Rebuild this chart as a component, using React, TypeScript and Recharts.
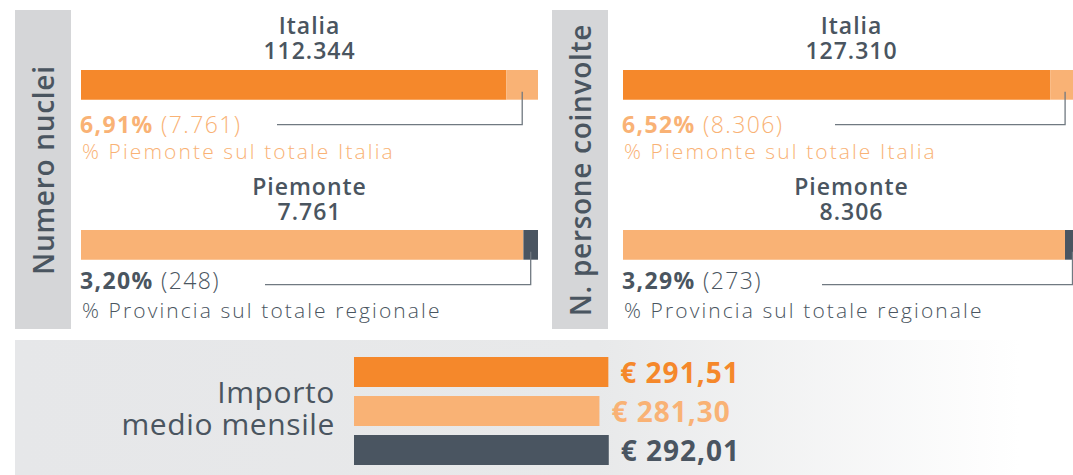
import React from 'react';
import { BarChart, Bar, XAxis, YAxis, Cell, LabelList } from 'recharts';

// values
const nucleiItalia = 112344;
const nucleiPiemonte = 7761;
const nucleiProvincia = 248;

const personeItalia = 127310;
const personePiemonte = 8306;
const personeProvincia = 273;

const importiLabels = ['Italia', 'Piemonte', 'Provincia'];
const importiValues = [291.51, 281.3, 292.01];

const ORANGE = '#f5882b';
const LIGHT = '#f9b275';
const DARK = '#4a5561';
const TEXT = '#4a5560';
const STRIP = '#d5d6d8';
const LINE = '#707981';
const FONT = '"Open Sans", sans-serif';

const importiColors = [ORANGE, LIGHT, DARK];

function fmtInt(n: number) {
  return String(n).replace(/\B(?=(\d{3})+(?!\d))/g, '.');
}
function fmtPct(part: number, total: number) {
  return (part / total * 100).toFixed(2).replace('.', ',') + '%';
}
function fmtEuro(v: number) {
  return '€ ' + v.toFixed(2).replace('.', ',');
}

const BAR_W = 457;
const BAR_H = 33;
const DROP = 25;

function Connector(props: any) {
  const { x, y, width, height, lineStart } = props;
  const cx = x + width / 2;
  const d = `M${cx},${y + height - 8} V${y + height + DROP} H${lineStart}`;
  return <path d={d} stroke={LINE} strokeWidth={1.3} fill="none" />;
}

function SplitBar({ total, part, colors, lineStart }: {
  total: number; part: number; colors: [string, string]; lineStart: number;
}) {
  const data = [{ name: 'x', rest: total - part, part }];
  return (
    <BarChart
      width={BAR_W}
      height={BAR_H + DROP + 4}
      data={data}
      layout="vertical"
      margin={{ top: 0, right: 0, bottom: DROP + 4, left: 0 }}
      barCategoryGap={0}
      style={{ overflow: 'visible' }}
    >
      <XAxis type="number" hide domain={[0, total]} />
      <YAxis type="category" dataKey="name" hide />
      <Bar dataKey="rest" stackId="s" fill={colors[0]} barSize={BAR_H} isAnimationActive={false} />
      <Bar
        dataKey="part"
        stackId="s"
        fill={colors[1]}
        barSize={BAR_H}
        isAnimationActive={false}
        label={(p: any) => <Connector {...p} lineStart={lineStart} />}
      />
    </BarChart>
  );
}

function abs(left: number, top: number, extra: React.CSSProperties = {}): React.CSSProperties {
  return { position: 'absolute', left, top, ...extra };
}

function Panel({ left, stripLeft, title, italia, piemonte, provincia, lines }: {
  left: number; stripLeft: number; title: string;
  italia: number; piemonte: number; provincia: number; lines: [number, number];
}) {
  const head: React.CSSProperties = {
    width: BAR_W, textAlign: 'center', fontSize: 23, lineHeight: '25px', color: TEXT,
    fontWeight: 600, letterSpacing: 1,
  };
  const pct: React.CSSProperties = { fontSize: 23, lineHeight: '26px', whiteSpace: 'nowrap', letterSpacing: 1.4 };
  const sub: React.CSSProperties = { fontSize: 21, lineHeight: '24px', fontWeight: 300, whiteSpace: 'nowrap', letterSpacing: 2.1 };
  return (
    <>
      <svg style={abs(stripLeft, 10)} width={56} height={319}>
        <rect width={56} height={319} fill={STRIP} />
        <text
          x={28} y={160} transform="rotate(-90 28 160)"
          textAnchor="middle" dominantBaseline="central" letterSpacing={0.7}
          fontFamily={FONT} fontSize={28} fontWeight={600} fill={TEXT}
        >{title}</text>
      </svg>

      <div style={abs(left, 13, head)}>
        <div>Italia</div>
        <div>{fmtInt(italia)}</div>
      </div>
      <div style={abs(left, 68)}>
        <SplitBar total={italia} part={piemonte} colors={[ORANGE, LIGHT]} lineStart={lines[0]} />
      </div>
      <div style={abs(left - 1, 111, { ...pct, color: LIGHT })}>
        <b>{fmtPct(piemonte, italia)}</b> <span style={{ fontWeight: 300 }}>({fmtInt(piemonte)})</span>
      </div>
      <div style={abs(left + 1, 139, { ...sub, color: LIGHT })}>
        % Piemonte sul totale Italia
      </div>

      <div style={abs(left, 174, head)}>
        <div>Piemonte</div>
        <div>{fmtInt(piemonte)}</div>
      </div>
      <div style={abs(left, 228)}>
        <SplitBar total={piemonte} part={provincia} colors={[LIGHT, DARK]} lineStart={lines[1]} />
      </div>
      <div style={abs(left - 1, 267, { ...pct, color: TEXT })}>
        <b>{fmtPct(provincia, piemonte)}</b> <span style={{ fontWeight: 300 }}>({fmtInt(provincia)})</span>
      </div>
      <div style={abs(left + 1, 298, { ...sub, color: TEXT })}>
        % Provincia sul totale regionale
      </div>
    </>
  );
}

function EuroLabel(props: any) {
  const { x, y, width, height, value, index } = props;
  return (
    <text
      x={x + width + 12} y={y + height / 2} dominantBaseline="central" letterSpacing={1}
      fontFamily={FONT} fontSize={28} fontWeight={700} fill={importiColors[index]}
    >{fmtEuro(value)}</text>
  );
}

export default function App() {
  const importi = importiLabels.map((name, i) => ({ name, value: importiValues[i] }));
  return (
    <div style={{ position: 'absolute', left: 0, top: 0, width: 1073, height: 475, overflow: 'hidden', background: '#fff', fontFamily: FONT }}>
      <Panel left={81} stripLeft={15} title="Numero nuclei"
        italia={nucleiItalia} piemonte={nucleiPiemonte} provincia={nucleiProvincia} lines={[196, 184]} />
      <Panel left={623} stripLeft={552} title="N. persone coinvolte"
        italia={personeItalia} piemonte={personePiemonte} provincia={personeProvincia} lines={[212, 199]} />

      <div style={abs(15, 340, {
        width: 1058, height: 135,
        background: 'linear-gradient(to right, #e6e7e9 0%, #e8e9ea 55%, #ffffff 95%)',
      })} />
      <div style={abs(60, 376, { width: 275, textAlign: 'right', fontSize: 30, lineHeight: '32px', color: TEXT, letterSpacing: 0.6 })}>
        <div>Importo</div>
        <div>medio mensile</div>
      </div>
      <div style={abs(354, 352)}>
        <BarChart
          width={520}
          height={117}
          data={importi}
          layout="vertical"
          margin={{ top: 0, right: 171, bottom: 0, left: 0 }}
          barCategoryGap={9}
        >
          <XAxis type="number" hide domain={[0, 400]} />
          <YAxis type="category" dataKey="name" hide />
          <Bar dataKey="value" barSize={30} isAnimationActive={false}>
            {importi.map((d, i) => <Cell key={d.name} fill={importiColors[i]} />)}
            <LabelList dataKey="value" content={<EuroLabel />} />
          </Bar>
        </BarChart>
      </div>
    </div>
  );
}
